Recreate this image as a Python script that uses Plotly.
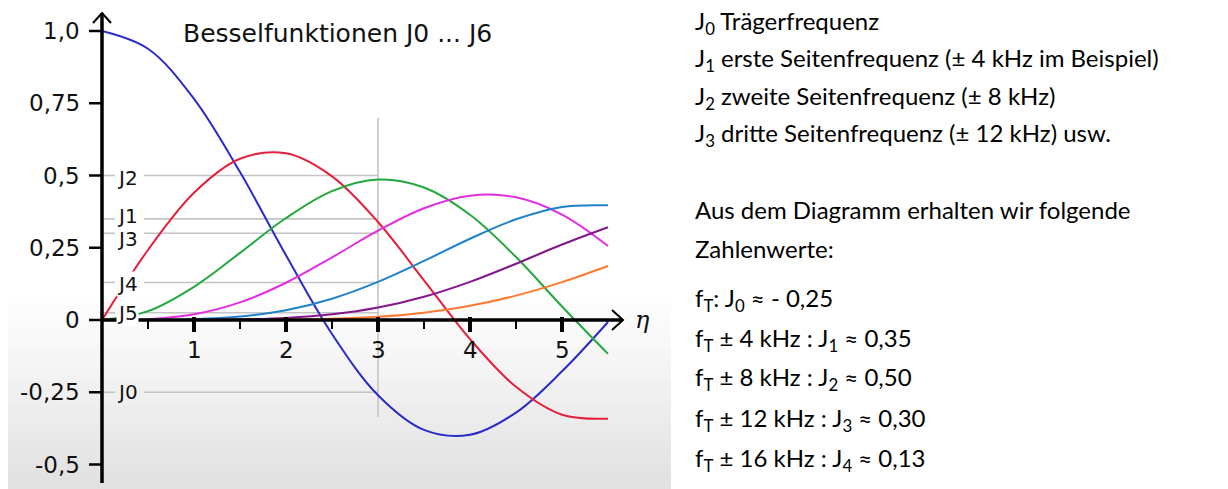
import plotly.graph_objects as go

# Bessel functions of the first kind, sampled every 0.5 along eta
eta = [0.0, 0.5, 1.0, 1.5, 2.0, 2.5, 3.0, 3.5, 4.0, 4.5, 5.0, 5.5]
J0 = [1.000, 0.9385, 0.7652, 0.5118, 0.2239, -0.0484, -0.2601, -0.3801, -0.3971, -0.3205, -0.1776, -0.0068]
J1 = [0.000, 0.2423, 0.4401, 0.5579, 0.5767, 0.4971, 0.3391, 0.1374, -0.0660, -0.2311, -0.3276, -0.3414]
J2 = [0.000, 0.0306, 0.1149, 0.2321, 0.3528, 0.4461, 0.4861, 0.4586, 0.3641, 0.2178, 0.0466, -0.1173]
J3 = [0.000, 0.0026, 0.0196, 0.0610, 0.1289, 0.2166, 0.3091, 0.3868, 0.4302, 0.4247, 0.3648, 0.2561]
J4 = [0.000, 0.0002, 0.0025, 0.0118, 0.0340, 0.0738, 0.1320, 0.2044, 0.2811, 0.3484, 0.3912, 0.3967]
J5 = [0.000, 0.0000, 0.0002, 0.0018, 0.0070, 0.0195, 0.0430, 0.0804, 0.1321, 0.1947, 0.2611, 0.3209]
J6 = [0.000, 0.0000, 0.0000, 0.0002, 0.0012, 0.0042, 0.0114, 0.0254, 0.0491, 0.0843, 0.1310, 0.1868]

series_names = ["J0", "J1", "J2", "J3", "J4", "J5", "J6"]
series_values = [J0, J1, J2, J3, J4, J5, J6]
series_colors = ["#2b2bc8", "#e4203c", "#22a83c", "#e22ee2", "#1f82c8", "#84168c", "#ff7a2e"]

eta_read = 3.0
read_names = ["J0", "J1", "J2", "J3", "J4", "J5"]
read_values = [-0.25, 0.35, 0.50, 0.30, 0.13, 0.025]
vline_top, vline_bottom = 0.70, -0.336

# Axis ticks
x_major_ticks = [1, 2, 3, 4, 5]
x_minor_ticks = [0.5, 1.5, 2.5, 3.5, 4.5]
y_ticks = [1.0, 0.75, 0.5, 0.25, 0.0, -0.25, -0.5]
y_tick_labels = ["1,0", "0,75", "0,5", "0,25", "0", "-0,25", "-0,5"]

# Explanatory text on the right
side_lines = [
    "J<sub>0</sub> Trägerfrequenz",
    "J<sub>1</sub> erste Seitenfrequenz (± 4 kHz im Beispiel)",
    "J<sub>2</sub> zweite Seitenfrequenz (± 8 kHz)",
    "J<sub>3</sub> dritte Seitenfrequenz (± 12 kHz) usw.",
    "Aus dem Diagramm erhalten wir folgende",
    "Zahlenwerte:",
]
offsets_khz = [0, 4, 8, 12, 16]

# ---- geometry of the figure (pixels) ----
W, H = 1228, 489
X0_PX, PX_PER_X = 102, 92.0
Y0_PX, PX_PER_Y = 320, 289.0
x_range = [-X0_PX / PX_PER_X, (W - X0_PX) / PX_PER_X]
y_range = [-(H - Y0_PX) / PX_PER_Y, Y0_PX / PX_PER_Y]


def dx(px):
    return px / PX_PER_X


def dy(px):
    return px / PX_PER_Y


def fmt(v):
    s = f"{abs(v):.2f}".replace(".", ",")
    return ("- " + s) if v < 0 else s


chart_font = "DejaVu Sans"
fig = go.Figure()

for name, vals, col in zip(series_names, series_values, series_colors):
    fig.add_trace(go.Scatter(
        x=eta, y=vals, mode="lines", name=name,
        line=dict(color=col, width=2, shape="spline", smoothing=1.0),
        hoverinfo="skip", showlegend=False,
    ))

shapes = []

# soft grey gradient in the lower part of the chart panel
n_steps = 24
g_top_px, g_bot_px = 290, H
for i in range(n_steps):
    t0 = i / n_steps
    t1 = (i + 1) / n_steps
    shade = int(round(255 - (255 - 224) * ((t0 + t1) / 2) ** 1.1))
    y_top = 1 - (g_top_px + (g_bot_px - g_top_px) * t0) / H
    y_bot = 1 - (g_top_px + (g_bot_px - g_top_px) * t1) / H
    shapes.append(dict(type="rect", xref="paper", yref="paper",
                       x0=8 / W, x1=671 / W, y0=y_bot, y1=y_top + 0.001,
                       fillcolor=f"rgb({shade},{shade},{shade})",
                       line=dict(width=0), layer="below"))

guide_col = "#c4c4c4"
# horizontal read-off guides (broken where the label sits) and the vertical line at eta = 3
lab_gap0, lab_gap1 = dx(13), dx(42)
for v in read_values:
    for a, b in ((0, lab_gap0), (lab_gap1, eta_read)):
        shapes.append(dict(type="line", xref="x", yref="y", x0=a, x1=b, y0=v, y1=v,
                           line=dict(color=guide_col, width=1.6), layer="below"))
shapes.append(dict(type="line", xref="x", yref="y", x0=eta_read, x1=eta_read,
                   y0=vline_bottom, y1=vline_top,
                   line=dict(color=guide_col, width=1.6), layer="below"))

axis_col = "#000000"
x_end = dx(623 - X0_PX)
y_top = dy(Y0_PX - 13)
y_bot = -dy(483 - Y0_PX)
# axes
shapes.append(dict(type="line", xref="x", yref="y", x0=0, x1=x_end, y0=0, y1=0,
                   line=dict(color=axis_col, width=3.5), layer="above"))
shapes.append(dict(type="line", xref="x", yref="y", x0=0, x1=0, y0=y_bot, y1=y_top,
                   line=dict(color=axis_col, width=3.5), layer="above"))
# open arrow heads
shapes.append(dict(type="path", xref="x", yref="y",
                   path=f"M {x_end - dx(11)},{dy(10)} L {x_end},0 L {x_end - dx(11)},{-dy(10)}",
                   line=dict(color=axis_col, width=2), layer="above"))
shapes.append(dict(type="path", xref="x", yref="y",
                   path=f"M {-dx(9)},{y_top - dy(10)} L 0,{y_top} L {dx(9)},{y_top - dy(10)}",
                   line=dict(color=axis_col, width=2), layer="above"))
# ticks
for t in x_major_ticks:
    shapes.append(dict(type="line", xref="x", yref="y", x0=t, x1=t, y0=dy(3), y1=-dy(12),
                       line=dict(color=axis_col, width=4), layer="above"))
for t in x_minor_ticks:
    shapes.append(dict(type="line", xref="x", yref="y", x0=t, x1=t, y0=0, y1=-dy(9),
                       line=dict(color=axis_col, width=2), layer="above"))
for t in y_ticks:
    shapes.append(dict(type="line", xref="x", yref="y", x0=-dx(13), x1=0, y0=t, y1=t,
                       line=dict(color=axis_col, width=2.5), layer="above"))

annotations = []
for t, lab in zip(y_ticks, y_tick_labels):
    annotations.append(dict(x=-dx(20), y=t, xref="x", yref="y", text=lab, showarrow=False,
                            xanchor="right", yanchor="middle",
                            font=dict(family=chart_font, size=23, color="#111")))
for t in x_major_ticks:
    annotations.append(dict(x=t, y=-dy(30), xref="x", yref="y", text=str(t), showarrow=False,
                            xanchor="center", yanchor="middle",
                            font=dict(family=chart_font, size=23, color="#111")))

# labels of the read-off guides; small vertical nudges keep J1 and J3 apart
label_nudge_px = {"J1": 3, "J3": -6, "J2": -2, "J4": -2, "J5": 0, "J0": 0}
label_bg = {"J4": "#ffffff", "J5": "#ffffff"}
for name, v in zip(read_names, read_values):
    annotations.append(dict(x=dx(14), y=v + dy(label_nudge_px[name]), xref="x", yref="y",
                            text=name, showarrow=False,
                            xanchor="left", yanchor="middle",
                            bgcolor=label_bg.get(name, "rgba(0,0,0,0)"), borderpad=0,
                            font=dict(family=chart_font, size=20, color="#111")))

# title and axis name
annotations.append(dict(x=dx(181 - X0_PX), y=dy(Y0_PX - 33), xref="x", yref="y",
                        text="Besselfunktionen J0 ... J6", showarrow=False,
                        xanchor="left", yanchor="middle",
                        font=dict(family=chart_font, size=25, color="#111")))
annotations.append(dict(x=x_end + dx(10), y=0, xref="x", yref="y", text="<i>η</i>",
                        showarrow=False, xanchor="left", yanchor="middle",
                        font=dict(family="DejaVu Serif", size=24, color="#111")))

# explanatory text
text_font = dict(family="Lato", size=24, color="#000")
line_px = [22, 59, 97, 135, 209, 249]
for txt, py in zip(side_lines, line_px):
    annotations.append(dict(x=693 / W, y=1 - py / H, xref="paper", yref="paper", text=txt,
                            showarrow=False, xanchor="left", yanchor="middle", font=text_font))

value_px = [299, 339, 378, 419, 459]
for k, (off, v, py) in enumerate(zip(offsets_khz, read_values[:5], value_px)):
    head = "f<sub>T</sub>:" if off == 0 else f"f<sub>T</sub> ± {off} kHz :"
    txt = f"{head} J<sub>{k}</sub> ≈ {fmt(v)}"
    annotations.append(dict(x=693 / W, y=1 - py / H, xref="paper", yref="paper", text=txt,
                            showarrow=False, xanchor="left", yanchor="middle", font=text_font))

fig.update_layout(
    width=W, height=H, margin=dict(l=0, r=0, t=0, b=0),
    paper_bgcolor="#ffffff", plot_bgcolor="rgba(0,0,0,0)",
    xaxis=dict(range=x_range, visible=False, fixedrange=True),
    yaxis=dict(range=y_range, visible=False, fixedrange=True),
    shapes=shapes, annotations=annotations, showlegend=False,
)

fig.write_html("out.html")
